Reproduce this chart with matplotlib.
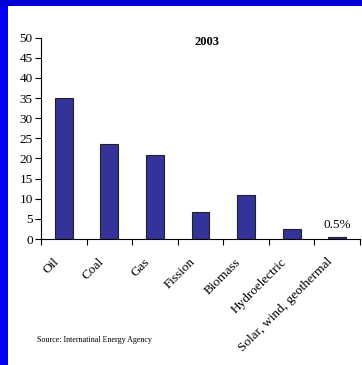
import matplotlib.pyplot as plt
from matplotlib.patches import Rectangle
from matplotlib.transforms import ScaledTranslation

# World energy supply by source, 2003 (percent)
sources = ['Oil', 'Coal', 'Gas', 'Fission', 'Biomass', 'Hydroelectric',
           'Solar, wind, geothermal']
shares = [35.0, 23.6, 20.8, 6.8, 11.0, 2.4, 0.5]
y_ticks = [0, 5, 10, 15, 20, 25, 30, 35, 40, 45, 50]

W, H = 362, 365
fig = plt.figure(figsize=(W / 100, H / 100), dpi=100)
fig.patch.set_facecolor('#0000f2')

# slide frame: darker blue band on top, white panel inside
fig.patches.append(Rectangle((0, 1 - 6 / H), 1, 6 / H, transform=fig.transFigure,
                             facecolor='#0000d6', edgecolor='none', zorder=-2))
fig.patches.append(Rectangle((8 / W, 0), 1, 1 - 6 / H, transform=fig.transFigure,
                             facecolor='white', edgecolor='none', zorder=-2))

serif = ['Liberation Serif', 'DejaVu Serif']
plt.rcParams['font.family'] = serif

ax = fig.add_axes([41 / W, (H - 239) / H, (360 - 41) / W, (239 - 37.7) / H])
ax.set_zorder(2)
ax.set_facecolor('none')

x = list(range(len(sources)))
ax.bar(x, shares, width=0.39, color='#333399', edgecolor='#222222', linewidth=0.8)

ax.set_xlim(-0.5, len(sources) - 0.5)
ax.set_ylim(0, 50)
ax.set_yticks(y_ticks)
ax.tick_params(axis='y', labelsize=9.5, length=4, width=0.8, pad=2, colors='black')

# category separators as x ticks, labels rotated under the bars
ax.set_xticks([i - 0.5 for i in range(len(sources) + 1)], minor=True)
ax.set_xticks(x)
ax.set_xticklabels(sources, rotation=45, ha='right', rotation_mode='anchor',
                   fontsize=9.5)
ax.tick_params(axis='x', which='major', length=0, pad=10)
ax.tick_params(axis='x', which='minor', length=4, width=0.8)
shift = ScaledTranslation(-0.11, -0.03, fig.dpi_scale_trans)
for lab in ax.get_xticklabels():
    lab.set_transform(lab.get_transform() + shift)

for s in ['top', 'right']:
    ax.spines[s].set_visible(False)
for s in ['left', 'bottom']:
    ax.spines[s].set_linewidth(0.8)

ax.text(3.15, 49, '2003', ha='center', va='center', fontsize=9, fontweight='bold')
ax.text(6, shares[-1] + 1.6, f'{shares[-1]}%', ha='center', va='bottom', fontsize=9.5)

fig.text(37 / W, 1 - 340 / H, 'Source: Internatinal Energy Agency', fontsize=5.8,
         va='center', ha='left')

fig.savefig('out.png', dpi=100, facecolor=fig.get_facecolor())
